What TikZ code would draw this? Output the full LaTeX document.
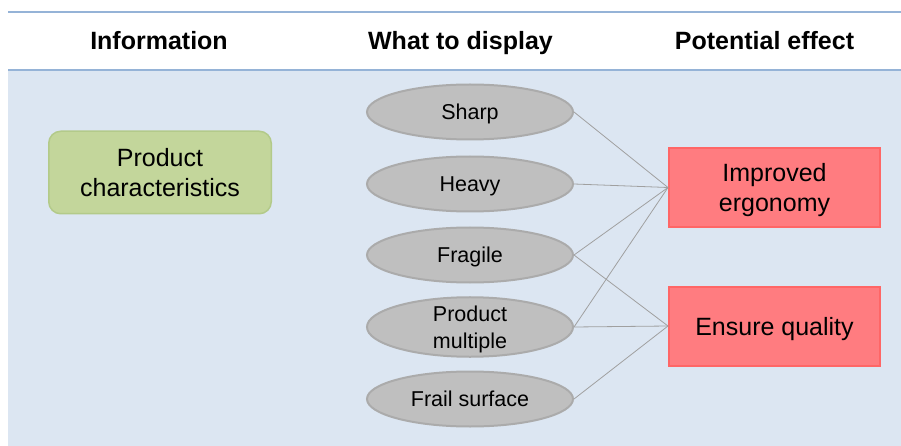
\documentclass[tikz,border=0pt]{standalone}
\usepackage{fontspec}
\setmainfont{Liberation Sans}
\usetikzlibrary{shapes.geometric}
\definecolor{bgblue}{HTML}{DCE6F2}
\definecolor{ruleblue}{HTML}{95B3D7}
\definecolor{greenfill}{HTML}{C3D69B}
\definecolor{greenline}{HTML}{B3CA8A}
\definecolor{greyfill}{HTML}{BFBFBF}
\definecolor{greyline}{HTML}{ABABAB}
\definecolor{redfill}{HTML}{FF7C80}
\definecolor{redline}{HTML}{FF6666}
\definecolor{linkgrey}{HTML}{A0A0A0}

\begin{document}
\begin{tikzpicture}[x = 1pt, y = -1pt,
        every node/.style={font=\fontsize{25}{30}\selectfont, align=center},
        header/.style={font=\fontsize{25}{30}\selectfont\bfseries, anchor=base},
        infobox/.style={draw=greenline, fill=greenfill, line width=1.5pt, rounded corners=12pt,
            minimum width=222.5pt, minimum height=82.5pt},
        showbox/.style={ellipse, draw=greyline, fill=greyfill, line width=2pt, inner sep=0pt,
            text depth=0pt, minimum width=206pt, minimum height=55pt, font=\fontsize{21.5}{26}\selectfont},
        effectbox/.style={draw=redline, fill=redfill, line width=2pt, text depth=0pt,
            minimum width=211pt, minimum height=79pt},
        link/.style={draw=linkgrey, line width=0.8pt}
]
    \useasboundingbox (0,0) rectangle (901,446);
    % header band and background
    \fill[bgblue] (8,70) rectangle (901,446);
    \draw[ruleblue, line width=1.5pt] (8,12) -- (901,12);
    \draw[ruleblue, line width=1.5pt] (8,70) -- (901,70);

    \node[header] (hinfo) at (159,50) {Information};
    \node[header] (hshow) at (460.5,50) {What to display};
    \node[header] (heffect) at (764.5,50) {Potential effect};

    \node[infobox] (product) at (160,172.5) {Product\\characteristics};

    \node[showbox] (sharp) at (470,112) {Sharp};
    \node[showbox] (heavy) at (470,184) {Heavy};
    \node[showbox] (fragile) at (470,255) {Fragile};
    \node[showbox, font=\fontsize{21.5}{26.5}\selectfont] (multiple) at (470,327) {Product\\multiple};
    \node[showbox] (frail) at (470,399) {Frail surface};

    \node[effectbox] (ergonomy) at (774.5,187.5) {Improved\\ergonomy};
    \node[effectbox] (quality) at (774.5,326) {Ensure quality};

    \draw[link] (sharp.east) -- (ergonomy.west);
    \draw[link] (heavy.east) -- (ergonomy.west);
    \draw[link] (fragile.east) -- (ergonomy.west);
    \draw[link] (fragile.east) -- (quality.west);
    \draw[link] (multiple.east) -- (ergonomy.west);
    \draw[link] (multiple.east) -- (quality.west);
    \draw[link] (frail.east) -- (quality.west);

\end{tikzpicture}
\end{document}
